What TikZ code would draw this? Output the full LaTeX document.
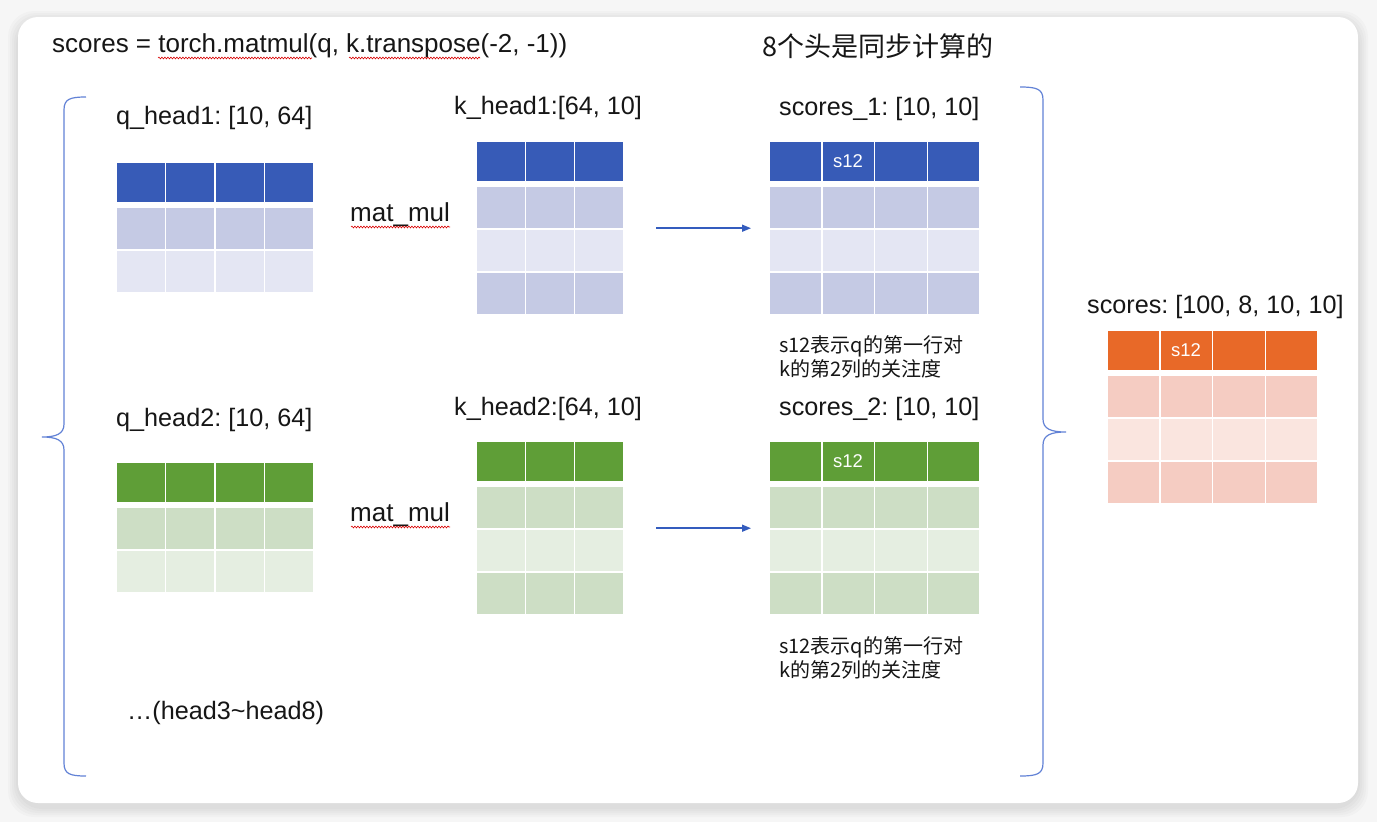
\documentclass[tikz,border=0pt]{standalone}
\usepackage{fontspec}
\setmainfont{Liberation Sans}
\newfontfamily\cjk{Noto Sans CJK SC}
\usetikzlibrary{arrows.meta,decorations.pathmorphing}
\frenchspacing

\definecolor{pagegray}{RGB}{246,246,246}
\definecolor{txt}{RGB}{22,22,22}
\definecolor{bracecol}{RGB}{98,130,214}
\definecolor{flowcol}{RGB}{52,92,190}
\definecolor{bluehead}{RGB}{55,91,183}
\definecolor{bluemid}{RGB}{197,202,228}
\definecolor{bluelight}{RGB}{228,230,243}
\definecolor{greenhead}{RGB}{95,158,55}
\definecolor{greenmid}{RGB}{205,222,197}
\definecolor{greenlight}{RGB}{229,238,225}
\definecolor{orangehead}{RGB}{232,105,40}
\definecolor{orangemid}{RGB}{245,204,194}
\definecolor{orangelight}{RGB}{250,229,223}

\tikzset{
  cell/.style={draw=white, line width=1.5pt},
  tag/.style={anchor=west, inner sep=0pt, text=txt, font=\fontsize{26}{31}\selectfont},
  headtag/.style={tag, font=\fontsize{25.2}{30}\selectfont},
  cjktag/.style={tag, font=\cjk\fontsize{27}{32}\selectfont},
  note/.style={anchor=west, inner sep=0pt, text=txt, align=left, font=\cjk\fontsize{20}{24}\selectfont},
  cellnum/.style={text=white, inner sep=0pt, font=\fontsize{18.5}{20}\selectfont},
  squiggle/.style={red!85!black, line width=0.6pt, decorate, decoration={snake, amplitude=0.9pt, segment length=3pt}},
  bracepath/.style={bracecol, line width=1.2pt},
  flow/.style={flowcol, line width=1.5pt, -{Triangle[length=9pt,width=7pt]}}
}

% #1 name, #2 x, #3 y, #4 columns, #5 cell width, #6 head colour, #7 body colours, #8 height
\newcommand\mtable[8]{
\foreach \k in {1,...,#4}{
\filldraw[cell,fill=#6] ({#2+(\k-1)*#5},#3) rectangle ++(#5,41);
\foreach \cl [count=\ri] in {#7}{
\filldraw[cell,fill=\cl] ({#2+(\k-1)*#5},{#3+45+(\ri-1)*43}) rectangle ++(#5,43);}}
\node[anchor=north west, inner sep=0pt, minimum width=#4*#5, minimum height=#8] (#1) at (#2,#3) {};
}

\begin{document}
\begin{tikzpicture}[x=1pt,y=-1pt]
\useasboundingbox (0,0) rectangle (1377,822);
\fill[pagegray] (0,0) rectangle (1377,822);
\foreach \s in {10,8,6,4,2}{
\fill[black,opacity=0.018,rounded corners=26] (18-\s,17-\s+4) rectangle (1358+\s,803+\s+4);}
\fill[white,rounded corners=20] (18,17) rectangle (1358,803);

% top line
\node[tag] (code) at (52,46) {scores = torch.matmul(q, k.transpose(-2, -1))};
\draw[squiggle] (158,58) -- (312,58);
\draw[squiggle] (349,58) -- (480,58);
\node[cjktag] (sync) at (762,46) {8个头是同步计算的};

% braces
\draw[bracepath] (86,97) .. controls (70,97) and (64,99) .. (64,110) -- (64,424)
  .. controls (64,434) and (56,437) .. (42,437) .. controls (56,437) and (64,440) .. (64,450)
  -- (64,763) .. controls (64,774) and (70,776) .. (86,776);
\draw[bracepath] (1020,87) .. controls (1037,87) and (1043,89) .. (1043,100) -- (1043,419)
  .. controls (1043,429) and (1051,432) .. (1066,432) .. controls (1051,432) and (1043,435) .. (1043,445)
  -- (1043,763) .. controls (1043,774) and (1037,776) .. (1020,776);

% head 1
\node[headtag] (q1tag) at (116,118) {q\_head1: [10, 64]};
\mtable{q1}{116}{162}{4}{49.5}{bluehead}{bluemid,bluelight}{131}
\node[tag] (mul1) at (350,215) {mat\_mul};
\draw[squiggle] (351,227) -- (450,227);
\node[headtag] (k1tag) at (454,108) {k\_head1:[64, 10]};
\mtable{k1}{476}{141}{3}{49.33}{bluehead}{bluemid,bluelight,bluemid}{174}
\node[headtag] (s1tag) at (779,109) {scores\_1: [10, 10]};
\mtable{s1}{769}{141}{4}{52.75}{bluehead}{bluemid,bluelight,bluemid}{174}
\node[cellnum] (s1v) at (848,161.5) {s12};
\draw[flow] ([xshift=32]k1.east) -- ([xshift=-18]s1.west);
\node[note] (n1) at (779,357) {s12表示q的第一行对\\k的第2列的关注度};

% head 2
\node[headtag] (q2tag) at (116,420) {q\_head2: [10, 64]};
\mtable{q2}{116}{462}{4}{49.5}{greenhead}{greenmid,greenlight}{131}
\node[tag] (mul2) at (350,515) {mat\_mul};
\draw[squiggle] (351,527) -- (450,527);
\node[headtag] (k2tag) at (454,409) {k\_head2:[64, 10]};
\mtable{k2}{476}{441}{3}{49.33}{greenhead}{greenmid,greenlight,greenmid}{174}
\node[headtag] (s2tag) at (779,409) {scores\_2: [10, 10]};
\mtable{s2}{769}{441}{4}{52.75}{greenhead}{greenmid,greenlight,greenmid}{174}
\node[cellnum] (s2v) at (848,461.5) {s12};
\draw[flow] ([xshift=32]k2.east) -- ([xshift=-18]s2.west);
\node[note] (n2) at (779,658) {s12表示q的第一行对\\k的第2列的关注度};

\node[headtag] (rest) at (127,713) {…(head3\textasciitilde head8)};

% result
\node[headtag] (alltag) at (1087,307) {scores: [100, 8, 10, 10]};
\mtable{all}{1107}{330}{4}{52.75}{orangehead}{orangemid,orangelight,orangemid}{174}
\node[cellnum] (allv) at (1186,350.5) {s12};
\end{tikzpicture}
\end{document}
